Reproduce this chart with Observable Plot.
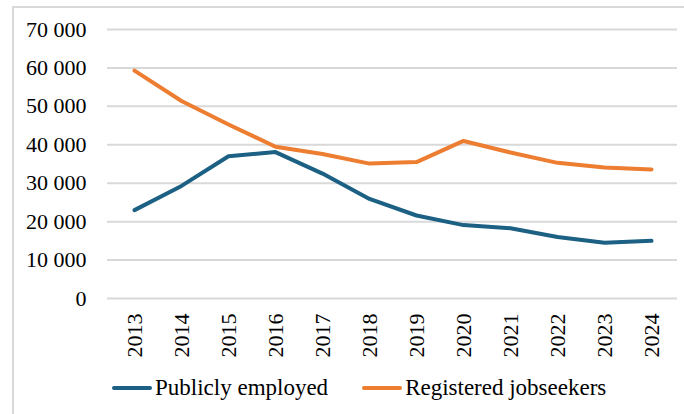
<!DOCTYPE html>
<html>
<head>
<meta charset="utf-8">
<script src="https://cdn.jsdelivr.net/npm/d3@7"></script>
<script src="https://cdn.jsdelivr.net/npm/@observablehq/plot@0.6"></script>
<style>
  html, body { margin: 0; padding: 0; background: #fff; }
  #wrap { position: relative; width: 684px; height: 414px; overflow: hidden; background: #fff;
          font-family: "Liberation Serif", Tinos, "Times New Roman", Times, "DejaVu Serif", serif; color: #000; }
  #frame { position: absolute; left: 12px; top: 6px; width: 800px; height: 600px;
           border-left: 2px solid #d9d9d9; border-top: 2px solid #d9d9d9; pointer-events: none; }
  #chart { position: absolute; left: 0; top: 0; }
  #chart svg text { font-family: "Liberation Serif", Tinos, "Times New Roman", Times, "DejaVu Serif", serif; }
  #legend { position: absolute; left: 112px; top: 374px; display: flex; align-items: center;
            font-size: 23px; line-height: 28px; white-space: nowrap; }
  .item { display: flex; align-items: center; }
  .sw { width: 40px; height: 4px; border-radius: 2px; margin-right: 3px; }
</style>
</head>
<body>
<div id="wrap">
  <div id="chart"></div>
  <div id="frame"></div>
  <div id="legend"></div>
</div>
<script>
const years = ["2013","2014","2015","2016","2017","2018","2019","2020","2021","2022","2023","2024"];
const publiclyEmployed = [23000, 29300, 37000, 38100, 32500, 25900, 21600, 19100, 18300, 16000, 14500, 15000];
const registeredJobseekers = [59300, 51400, 45300, 39500, 37600, 35100, 35500, 41000, 38000, 35300, 34100, 33600];
const seriesNames = ["Publicly employed", "Registered jobseekers"];
const seriesColors = ["#1c6083", "#ed7d31"];
const yTicks = [0, 10000, 20000, 30000, 40000, 50000, 60000, 70000];

const data = [];
years.forEach((y, i) => {
  data.push({year: y, value: publiclyEmployed[i], series: seriesNames[0]});
  data.push({year: y, value: registeredJobseekers[i], series: seriesNames[1]});
});

const fmt = d3.formatLocale({decimal: ".", thousands: " ", grouping: [3], currency: ["", ""]}).format(",");

const chart = Plot.plot({
  width: 684,
  height: 370,
  marginLeft: 107,
  marginRight: 7,
  marginTop: 29,
  marginBottom: 72,
  style: {fontFamily: "'Liberation Serif', Tinos, 'Times New Roman', Times, 'DejaVu Serif', serif", fontSize: "22px", color: "#000", background: "transparent"},
  x: {type: "point", domain: years, padding: 0.5, label: null},
  y: {domain: [0, 70000], label: null},
  color: {domain: seriesNames, range: seriesColors},
  marks: [
    Plot.gridY(yTicks, {stroke: "#d9d9d9", strokeOpacity: 1, strokeWidth: 2}),
    Plot.axisY(yTicks, {tickSize: 0, tickPadding: 21, tickFormat: fmt, fill: "#000"}),
    Plot.axisX({tickSize: 0, tickPadding: 15, tickRotate: -90, fill: "#000"}),
    Plot.line(data, {x: "year", y: "value", z: "series", stroke: "series", strokeWidth: 4, strokeLinecap: "round", strokeLinejoin: "round"})
  ]
});
document.getElementById("chart").appendChild(chart);

const legend = document.getElementById("legend");
seriesNames.forEach((name, i) => {
  const item = document.createElement("div");
  item.className = "item";
  if (i > 0) item.style.marginLeft = "34px";
  const sw = document.createElement("div");
  sw.className = "sw";
  sw.style.background = seriesColors[i];
  const t = document.createElement("span");
  t.textContent = name;
  item.appendChild(sw);
  item.appendChild(t);
  legend.appendChild(item);
});
</script>
</body>
</html>
